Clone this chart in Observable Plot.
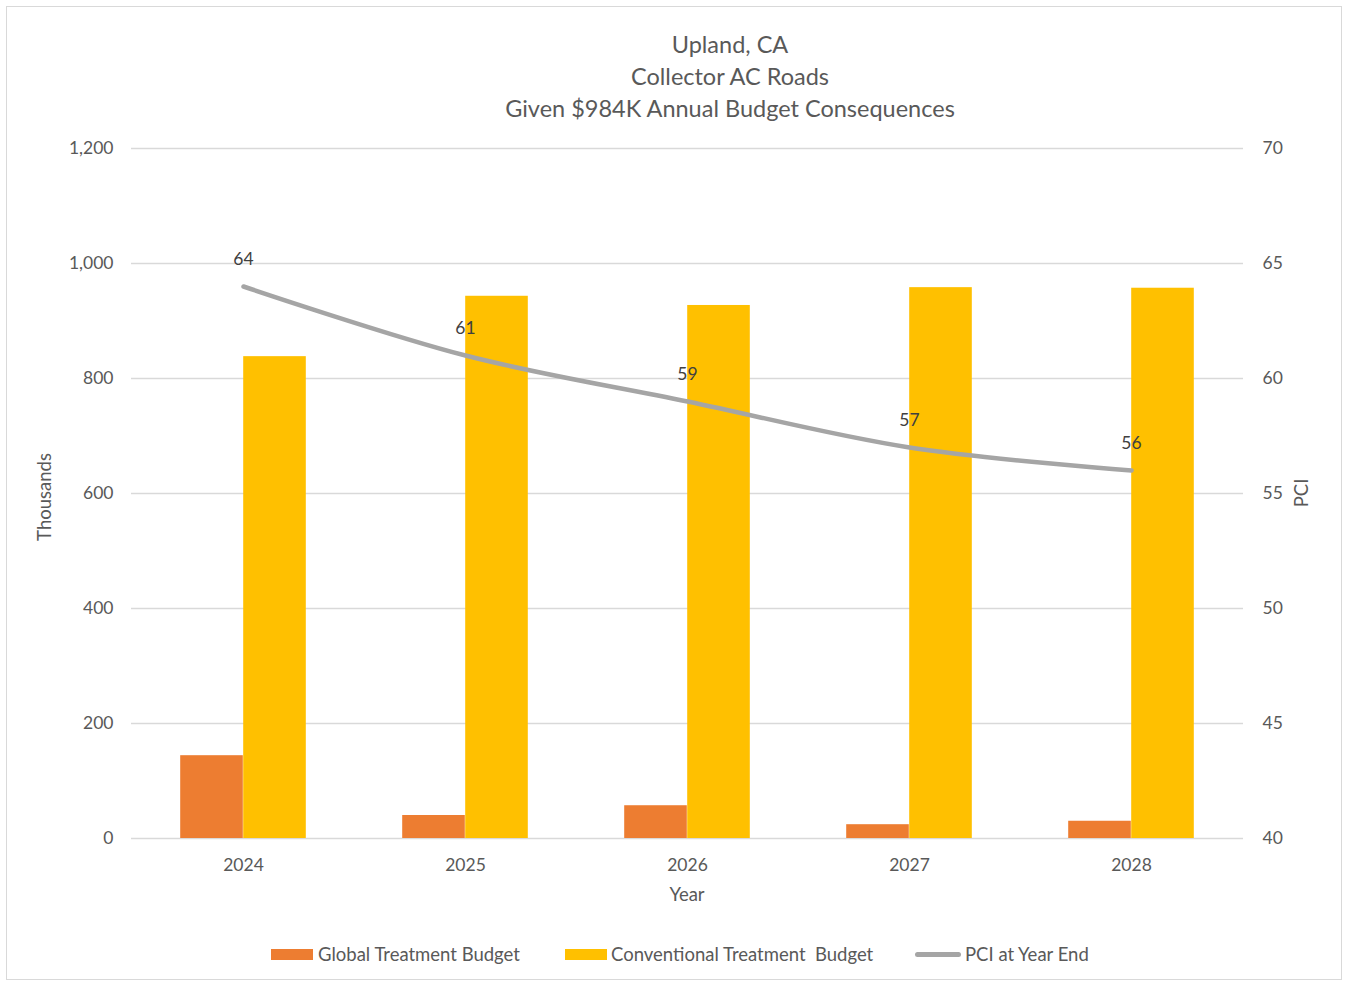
<!DOCTYPE html>
<html>
<head>
<meta charset="utf-8">
<script src="https://cdn.jsdelivr.net/npm/d3@7"></script>
<script src="https://cdn.jsdelivr.net/npm/@observablehq/plot@0.6"></script>
<style>
  body { margin: 0; background: #fff; font-family: Lato, "Open Sans", sans-serif; }
  #wrap { position: relative; width: 1347px; height: 983px; overflow: hidden; }
  #frame { position: absolute; left: 6px; top: 6px; width: 1336px; height: 974px; border: 1px solid #d9d9d9; box-sizing: border-box; }
  #title { position: absolute; left: 0; width: 1460px; top: 28px; text-align: center; color: #595959; font-size: 23.5px; line-height: 32px; }
  #chart { position: absolute; left: 0; top: 130px; }
  .leg { position: absolute; top: 942px; font-size: 18.5px; color: #595959; line-height: 24px; white-space: pre; }
  .sw { position: absolute; }
</style>
</head>
<body>
<div id="wrap">
  <div id="frame"></div>
  <div id="title">Upland, CA<br>Collector AC Roads<br>Given $984K Annual Budget Consequences</div>
  <div id="chart"></div>
  <div id="legend"></div>
</div>
<script>
const years = ["2024", "2025", "2026", "2027", "2028"];
const globalBudget = [144, 40, 57, 24, 30];
const conventionalBudget = [838, 943, 927, 958, 957];
const pci = [64, 61, 59, 57, 56];
const leftTicks = [0, 200, 400, 600, 800, 1000, 1200];
const pciMin = 40, pciMax = 70;

const colors = { global: "#ED7D31", conventional: "#FFC000", pci: "#A5A5A5" };
const toLeft = v => (v - pciMin) * 1200 / (pciMax - pciMin);

const rows = years.map((y, i) => ({ year: y, g: globalBudget[i], c: conventionalBudget[i], p: pci[i], py: toLeft(pci[i]) }));

const band = (1243 - 131) / years.length;
const barW = 63;

const chart = Plot.plot({
  width: 1347,
  height: 780,
  marginLeft: 131,
  marginRight: 104,
  marginTop: 18,
  marginBottom: 72,
  style: { fontFamily: "Lato, 'Open Sans', sans-serif", fontSize: "17.5px", color: "#595959", background: "transparent" },
  x: { type: "band", domain: years, padding: 0 },
  y: { domain: [0, 1200] },
  marks: [
    Plot.ruleY(leftTicks, { stroke: "#d9d9d9", strokeWidth: 1.5 }),
    Plot.barY(rows, { x: "year", y: "g", fill: colors.global, insetLeft: band / 2 - barW, insetRight: band / 2 }),
    Plot.barY(rows, { x: "year", y: "c", fill: colors.conventional, insetLeft: band / 2, insetRight: band / 2 - barW }),
    Plot.line(rows, { x: "year", y: "py", stroke: colors.pci, strokeWidth: 4.5, curve: "catmull-rom" }),
    Plot.text(rows, { x: "year", y: "py", text: d => String(d.p), dy: -27, fill: "#404040", fontSize: 17.5 }),
    Plot.axisY({ ticks: leftTicks, tickFormat: d => d3.format(",")(d), tickSize: 0, tickPadding: 18, label: null, fill: "#595959" }),
    Plot.axisY({ anchor: "right", ticks: leftTicks, tickFormat: d => String(pciMin + d * (pciMax - pciMin) / 1200), tickSize: 0, tickPadding: 19, label: null, fill: "#595959" }),
    Plot.axisX({ tickSize: 0, tickPadding: 20, label: null, fill: "#595959" })
  ]
});
document.getElementById("chart").appendChild(chart);

// axis titles
const svg = d3.select(chart);
svg.append("text").attr("transform", "translate(46,367) rotate(-90)").attr("text-anchor", "middle")
  .attr("dominant-baseline", "middle").attr("fill", "#595959").attr("font-size", 18.5).text("Thousands");
svg.append("text").attr("transform", "translate(1303,363) rotate(-90)").attr("text-anchor", "middle")
  .attr("dominant-baseline", "middle").attr("fill", "#595959").attr("font-size", 18.5).text("PCI");
svg.append("text").attr("x", 687).attr("y", 766).attr("text-anchor", "middle")
  .attr("dominant-baseline", "middle").attr("fill", "#595959").attr("font-size", 18.5).text("Year");

// legend
const legendItems = [
  { label: "Global Treatment Budget", color: colors.global, type: "rect", sx: 271, tx: 318 },
  { label: "Conventional Treatment  Budget", color: colors.conventional, type: "rect", sx: 565, tx: 611 },
  { label: "PCI at Year End", color: colors.pci, type: "line", sx: 915, tx: 965 }
];
const leg = document.getElementById("legend");
legendItems.forEach(it => {
  const s = document.createElement("div");
  s.className = "sw";
  s.style.left = it.sx + "px";
  s.style.background = it.color;
  if (it.type === "rect") { s.style.top = "949px"; s.style.width = "42px"; s.style.height = "11px"; }
  else { s.style.top = "952px"; s.style.width = "46px"; s.style.height = "5px"; s.style.borderRadius = "3px"; }
  leg.appendChild(s);
  const t = document.createElement("div");
  t.className = "leg";
  t.style.left = it.tx + "px";
  t.textContent = it.label;
  leg.appendChild(t);
});
</script>
</body>
</html>
